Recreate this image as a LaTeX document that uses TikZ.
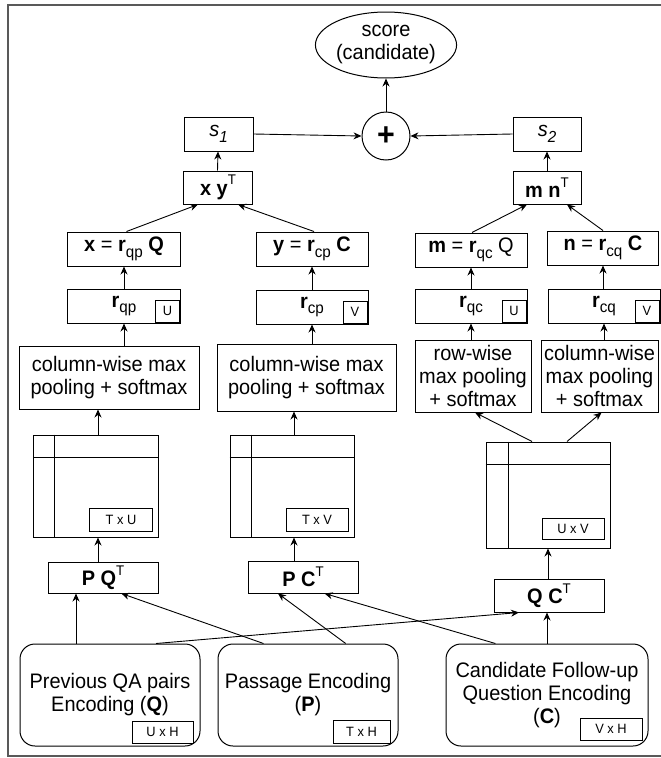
\documentclass[tikz,border=0pt]{standalone}
\usepackage{fontspec}
\setmainfont[FakeStretch=0.95]{Liberation Sans}
\usetikzlibrary{shapes.geometric,arrows.meta}
% lowered / raised indices in text
\newcommand\lowr[1]{\raisebox{-0.28em}{\fontsize{16}{16}\selectfont #1}}
\newcommand\highr[1]{\raisebox{0.5em}{\fontsize{14}{14}\selectfont #1}}
\begin{document}
\begin{tikzpicture}[x=1pt,y=-1pt,
  box/.style={draw=black, line width=1pt, inner sep=0pt, align=center,
    font=\fontsize{21}{23}\selectfont},
  enc/.style={box, rounded corners=15pt},
  tag/.style={draw=black, line width=1pt, inner sep=0pt,
    font=\fontsize{13.5}{13.5}\selectfont},
  arr/.style={-{Stealth[length=8pt,width=7pt]}, line width=0.9pt},
  inner/.style={line width=1pt}]
\useasboundingbox (0,0) rectangle (661,758);
\begin{scope}
  \clip (0,0) rectangle (661,758);
  \draw[line width=2pt, draw=black!65] (8,5) rectangle (700,756);
\end{scope}

% output
\node[box, ellipse, minimum width=125pt, minimum height=66pt] (score) at (386,45) {score\\(candidate)};
\node[box, circle, minimum size=48pt, font=\fontsize{32}{32}\selectfont\bfseries] (plus) at (386,136) {+};
\node[box, minimum width=69pt, minimum height=34pt] (s1) at (218.5,134) {\textit{s}\lowr{\textit{1}}};
\node[box, minimum width=68pt, minimum height=34pt] (s2) at (547,134) {\textit{s}\lowr{\textit{2}}};
\node[box, minimum width=69pt, minimum height=33pt] (xy) at (218,187.5) {\textbf{x y}\highr{T}};
\node[box, minimum width=68pt, minimum height=33pt] (mn) at (547,187.5) {\textbf{m n}\highr{T}};

% attended vectors
\node[box, minimum width=113pt, minimum height=34pt] (xq) at (124,249) {\textbf{x} = \textbf{r}\lowr{qp} \textbf{Q}};
\node[box, minimum width=112pt, minimum height=34pt] (yc) at (312,249) {\textbf{y} = \textbf{r}\lowr{cp} \textbf{C}};
\node[box, minimum width=112pt, minimum height=34pt] (mq) at (471,250) {\textbf{m} = \textbf{r}\lowr{qc} Q};
\node[box, minimum width=111pt, minimum height=34pt] (nc) at (603,248) {\textbf{n} = \textbf{r}\lowr{cq} \textbf{C}};

% pooled weights
\node[box, minimum width=113pt, minimum height=34pt] (rqp) at (124,306) {\textbf{r}\lowr{qp}};
\node[box, minimum width=112pt, minimum height=34pt] (rcp) at (312,307) {\textbf{r}\lowr{cp}};
\node[box, minimum width=112pt, minimum height=34pt] (rqc) at (471,306) {\textbf{r}\lowr{qc}};
\node[box, minimum width=112pt, minimum height=34pt] (rcq) at (604,306) {\textbf{r}\lowr{cq}};
\node[tag, minimum width=24pt, minimum height=22pt, anchor=south east] (tu1) at ([xshift=-1pt,yshift=1pt]rqp.south east) {U};
\node[tag, minimum width=24pt, minimum height=22pt, anchor=south east] (tv1) at ([xshift=-1pt,yshift=1pt]rcp.south east) {V};
\node[tag, minimum width=24pt, minimum height=22pt, anchor=south east] (tu2) at ([xshift=-1pt,yshift=1pt]rqc.south east) {U};
\node[tag, minimum width=24pt, minimum height=22pt, anchor=south east] (tv2) at ([xshift=-1pt,yshift=1pt]rcq.south east) {V};

% pooling
\node[box, minimum width=180pt, minimum height=63pt] (pool1) at (109,377.5) {column-wise max\\pooling + softmax};
\node[box, minimum width=179pt, minimum height=67pt] (pool2) at (306.5,377.5) {column-wise max\\pooling + softmax};
\node[box, minimum width=116pt, minimum height=72pt] (roww) at (473,376) {row-wise\\max pooling\\+ softmax};
\node[box, minimum width=117pt, minimum height=72pt] (col3) at (599.5,376) {column-wise\\max pooling\\+ softmax};

% similarity matrices
\node[box, minimum width=125pt, minimum height=102pt] (m1) at (96,486) {};
\node[box, minimum width=124pt, minimum height=102pt] (m2) at (292,486) {};
\node[box, minimum width=124pt, minimum height=106pt] (m3) at (548,495) {};
\draw[inner] ([xshift=21.5pt]m1.north west) -- ([xshift=21.5pt]m1.south west);
\draw[inner] ([yshift=-23pt]m1.north west) -- ([yshift=-23pt]m1.north east);
\draw[inner] ([xshift=22pt]m2.north west) -- ([xshift=22pt]m2.south west);
\draw[inner] ([yshift=-23pt]m2.north west) -- ([yshift=-23pt]m2.north east);
\draw[inner] ([xshift=22.5pt]m3.north west) -- ([xshift=22.5pt]m3.south west);
\draw[inner] ([yshift=-23pt]m3.north west) -- ([yshift=-23pt]m3.north east);
\node[tag, minimum width=63pt, minimum height=23pt] (tm1) at (121,519.5) {T x U};
\node[tag, minimum width=62pt, minimum height=23pt] (tm2) at (317,519.5) {T x V};
\node[tag, minimum width=62pt, minimum height=21pt] (tm3) at (573,529) {U x V};

% products
\node[box, minimum width=110pt, minimum height=31pt] (pq) at (103,577.5) {\textbf{P Q}\highr{T}};
\node[box, minimum width=110pt, minimum height=32pt] (pc) at (303,577) {\textbf{P C}\highr{T}};
\node[box, minimum width=110pt, minimum height=33pt] (qc) at (549,595.5) {\textbf{Q C}\highr{T}};

% encodings
\node[enc, minimum width=180pt, minimum height=102pt] (encq) at (110,695) {Previous QA pairs\\Encoding (\textbf{Q})};
\node[enc, minimum width=180pt, minimum height=102pt] (encp) at (308,695) {Passage Encoding\\(\textbf{P})};
\node[enc, minimum width=202pt, minimum height=102pt] (encc) at (547,695) {Candidate Follow-up\\Question Encoding\\(\textbf{C})};
\node[tag, minimum width=61pt, minimum height=22pt, anchor=south east] (tq) at ([xshift=-7pt,yshift=3pt]encq.south east) {U x H};
\node[tag, minimum width=57pt, minimum height=23pt, anchor=south east] (tp) at ([xshift=-8pt,yshift=3pt]encp.south east) {T x H};
\node[tag, minimum width=62pt, minimum height=22pt, anchor=south east] (tc) at ([xshift=-6pt,yshift=6pt]encc.south east) {V x H};

% connectors
\draw[arr] (plus.north) -- (score.south);
\draw[arr] (s1.east) -- (plus.west);
\draw[arr] (s2.west) -- (plus.east);
\draw[arr] ([xshift=-0.5pt]xy.north) -- ([xshift=-0.5pt]s1.south);
\draw[arr] (mn.north) -- (s2.south);
\draw[arr] ([xshift=2.5pt]xq.north) -- ([xshift=-20pt]xy.south);
\draw[arr] ([xshift=2pt]yc.north) -- ([xshift=20pt]xy.south);
\draw[arr] ([xshift=1pt]mq.north) -- ([xshift=-20pt]mn.south);
\draw[arr] (nc.north) -- ([xshift=20pt]mn.south);
\draw[arr] (rqp.north) -- (xq.south);
\draw[arr] (rcp.north) -- (yc.south);
\draw[arr] (rqc.north) -- (mq.south);
\draw[arr] ([xshift=-1pt]rcq.north) -- ([xshift=-0pt]nc.south);
\draw[arr] ([xshift=15pt]pool1.north) -- (rqp.south);
\draw[arr] ([xshift=5.5pt]pool2.north) -- (rcp.south);
\draw[arr] ([xshift=-2pt]roww.north) -- (rqc.south);
\draw[arr] ([xshift=4.5pt]col3.north) -- (rcq.south);
\draw[arr] ([xshift=2pt]m1.north) -- ([xshift=-11pt]pool1.south);
\draw[arr] ([xshift=2pt]m2.north) -- ([xshift=-12.5pt]pool2.south);
\draw[arr] ([xshift=-16pt]m3.north) -- ([xshift=2pt]roww.south);
\draw[arr] ([xshift=19pt]m3.north) -- ([xshift=2pt]col3.south);
\draw[arr] ([xshift=-5pt]pq.north) -- ([xshift=2pt]m1.south);
\draw[arr] ([xshift=-9pt]pc.north) -- ([xshift=2pt]m2.south);
\draw[arr] ([xshift=-1pt]qc.north) -- (m3.south);
\draw[arr] ([xshift=-34pt]encq.north) -- ([xshift=-27pt]pq.south);
\draw[arr] ([xshift=46pt]encq.north) -- ([xshift=-30pt]qc.south);
\draw[arr] ([xshift=-44.5pt]encp.north) -- ([xshift=18.4pt]pq.south);
\draw[arr] ([xshift=37.7pt]encp.north) -- ([xshift=-25pt]pc.south);
\draw[arr] ([xshift=-51.6pt]encc.north) -- ([xshift=21.6pt]pc.south);
\draw[arr] (encc.north) -- ([xshift=-2pt]qc.south);
\end{tikzpicture}
\end{document}
